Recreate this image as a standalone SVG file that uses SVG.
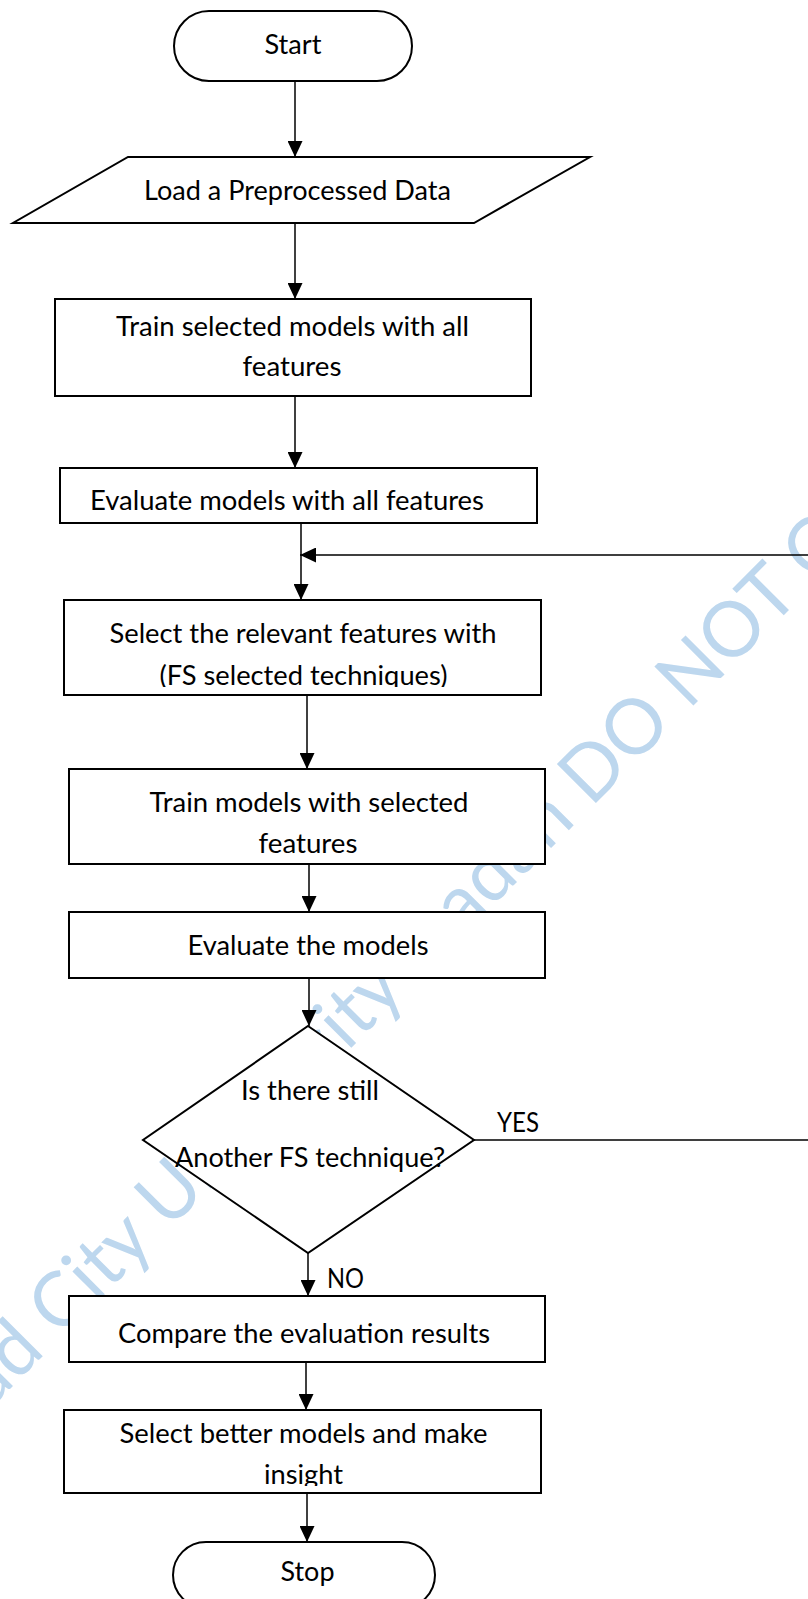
<svg xmlns="http://www.w3.org/2000/svg" width="808" height="1599" viewBox="0 0 808 1599">
  <style>
    .shape { fill: #ffffff; stroke: #000000; stroke-width: 2; }
    .label { font-family: Lato, "Open Sans", "Liberation Sans", sans-serif; font-size: 26px; fill: #000000; }
    .wire { fill: none; stroke: #000000; stroke-width: 1.5; }
    .wm { font-family: Lato, "Open Sans", "Liberation Sans", sans-serif; font-size: 77px; fill: #bdd7ee; }
  </style>
  <defs>
    <marker id="arrow" markerUnits="userSpaceOnUse" markerWidth="16" markerHeight="15" refX="16" refY="7.5" orient="auto">
      <path d="M0,0 L16,7.5 L0,15 Z" fill="#000000"/>
    </marker>
    <clipPath id="clip-select">
      <rect x="64" y="600" width="477" height="87"/>
    </clipPath>
    <clipPath id="clip-better">
      <rect x="64" y="1410" width="477" height="76"/>
    </clipPath>
  </defs>

  <rect x="0" y="0" width="808" height="1599" fill="#ffffff"/>

  <!-- background stamp, sits under the white shapes -->
  <g id="watermark">
    <text class="wm" transform="translate(-64 1463) rotate(-45)" textLength="1444" lengthAdjust="spacingAndGlyphs">Lead City University Ibadan DO NOT COPY</text>
  </g>

  <g id="start">
    <rect class="shape" x="174" y="11" width="238" height="70" rx="35" ry="35"/>
    <text class="label" x="293" y="54" text-anchor="middle" textLength="57" lengthAdjust="spacingAndGlyphs">Start</text>
  </g>

  <g id="load-data">
    <polygon class="shape" points="128,157 590,157 474,223 13,223"/>
    <text class="label" x="297.5" y="200" text-anchor="middle" textLength="307" lengthAdjust="spacingAndGlyphs">Load a Preprocessed Data</text>
  </g>

  <g id="train-all">
    <rect class="shape" x="55" y="299" width="476" height="97"/>
    <text class="label" x="292.5" y="336" text-anchor="middle" textLength="353" lengthAdjust="spacingAndGlyphs">Train selected models with all</text>
    <text class="label" x="292" y="376" text-anchor="middle" textLength="99" lengthAdjust="spacingAndGlyphs">features</text>
  </g>

  <g id="evaluate-all">
    <rect class="shape" x="60" y="468" width="477" height="55"/>
    <text class="label" x="90" y="510" textLength="394" lengthAdjust="spacingAndGlyphs">Evaluate models with all features</text>
  </g>

  <g id="select-features">
    <rect class="shape" x="64" y="600" width="477" height="95"/>
    <text class="label" x="303" y="643" text-anchor="middle" textLength="387" lengthAdjust="spacingAndGlyphs">Select the relevant features with</text>
    <text class="label" x="303.5" y="685" text-anchor="middle" textLength="288" lengthAdjust="spacingAndGlyphs" clip-path="url(#clip-select)">(FS selected techniques)</text>
  </g>

  <g id="train-selected">
    <rect class="shape" x="69" y="769" width="476" height="95"/>
    <text class="label" x="309" y="812" text-anchor="middle" textLength="319" lengthAdjust="spacingAndGlyphs">Train models with selected</text>
    <text class="label" x="308" y="853" text-anchor="middle" textLength="99" lengthAdjust="spacingAndGlyphs">features</text>
  </g>

  <g id="evaluate-models">
    <rect class="shape" x="69" y="912" width="476" height="66"/>
    <text class="label" x="308" y="955" text-anchor="middle" textLength="241" lengthAdjust="spacingAndGlyphs">Evaluate the models</text>
  </g>

  <g id="decision">
    <polygon class="shape" points="308,1026 474,1140 308,1253 143,1140"/>
    <text class="label" x="310" y="1100" text-anchor="middle" textLength="138" lengthAdjust="spacingAndGlyphs">Is there still</text>
    <text class="label" x="310" y="1167" text-anchor="middle" textLength="270" lengthAdjust="spacingAndGlyphs">Another FS technique?</text>
  </g>

  <g id="compare">
    <rect class="shape" x="69" y="1296" width="476" height="66"/>
    <text class="label" x="304" y="1343" text-anchor="middle" textLength="372" lengthAdjust="spacingAndGlyphs">Compare the evaluation results</text>
  </g>

  <g id="select-better">
    <rect class="shape" x="64" y="1410" width="477" height="83"/>
    <text class="label" x="303.5" y="1443" text-anchor="middle" textLength="368" lengthAdjust="spacingAndGlyphs">Select better models and make</text>
    <text class="label" x="303.5" y="1484" text-anchor="middle" textLength="79" lengthAdjust="spacingAndGlyphs" clip-path="url(#clip-better)">insight</text>
  </g>

  <g id="stop">
    <rect class="shape" x="173" y="1542" width="262" height="66" rx="33" ry="33"/>
    <text class="label" x="307.5" y="1581" text-anchor="middle" textLength="54" lengthAdjust="spacingAndGlyphs">Stop</text>
  </g>

  <g id="connectors">
    <path class="wire" d="M295,81 V157" marker-end="url(#arrow)"/>
    <path class="wire" d="M295,223 V299" marker-end="url(#arrow)"/>
    <path class="wire" d="M295,396 V468" marker-end="url(#arrow)"/>
    <path class="wire" d="M301,523 V600" marker-end="url(#arrow)"/>
    <path class="wire" d="M474,1140 H812 V555 H300" marker-end="url(#arrow)"/>
    <path class="wire" d="M307,695 V769" marker-end="url(#arrow)"/>
    <path class="wire" d="M309,864 V912" marker-end="url(#arrow)"/>
    <path class="wire" d="M309,978 V1026" marker-end="url(#arrow)"/>
    <path class="wire" d="M308,1253 V1296" marker-end="url(#arrow)"/>
    <path class="wire" d="M306,1362 V1410" marker-end="url(#arrow)"/>
    <path class="wire" d="M307,1493 V1542" marker-end="url(#arrow)"/>
    <text class="label" x="497" y="1132" textLength="42" lengthAdjust="spacingAndGlyphs">YES</text>
    <text class="label" x="327" y="1288" textLength="37" lengthAdjust="spacingAndGlyphs">NO</text>
  </g>
</svg>
